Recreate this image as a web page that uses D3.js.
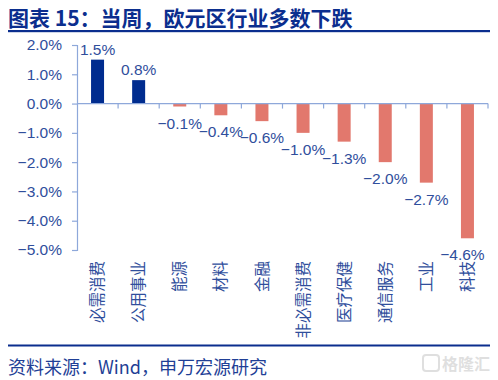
<!DOCTYPE html>
<html><head><meta charset="utf-8">
<script src="https://cdn.jsdelivr.net/npm/d3@7/dist/d3.min.js"></script>
<style>body{margin:0;background:#fff}svg{display:block}</style>
</head><body>
<svg id="c" width="498" height="380"></svg>
<script>
const categories = ["必需消费","公用事业","能源","材料","金融","非必需消费","医疗保健","通信服务","工业","科技"];
const values = [1.5, 0.8, -0.1, -0.4, -0.6, -1.0, -1.3, -2.0, -2.7, -4.6];
const yTicks = [2, 1, 0, -1, -2, -3, -4, -5];
const title = "图表 15：当周，欧元区行业多数下跌";
const source = "资料来源：Wind，申万宏源研究";

const svg = d3.select("#c");
const FONT = "'Liberation Sans', Arial, 'Noto Sans CJK SC', sans-serif";
const CJK = "'Noto Sans CJK SC', 'Liberation Sans', sans-serif";
const textBlue = "#2F4E9C";
const axisCol = "#8EA8DA";

// Title
svg.append("text").attr("x", 8).attr("y", 26)
  .attr("font-family", CJK).attr("font-weight", "bold").attr("font-size", 21)
  .attr("fill", "#0B2E8E").text(title);
svg.append("rect").attr("x", 8).attr("y", 30).attr("width", 482).attr("height", 2.2).attr("fill", "#0B2E8E");

const x = d3.scaleBand().domain(categories).range([77, 488]).paddingInner(0).paddingOuter(0);
const y = d3.scaleLinear().domain([-5, 2]).range([250, 45]);
const barW = 13;

const g = svg.append("g");

// Bars
g.selectAll("rect.bar").data(values).join("rect")
  .attr("class", "bar")
  .attr("x", (d, i) => x(categories[i]) + x.bandwidth() / 2 - barW / 2)
  .attr("width", barW)
  .attr("y", d => y(Math.max(0, d)))
  .attr("height", d => Math.abs(y(d) - y(0)))
  .attr("fill", d => d >= 0 ? "#002C8F" : "#E2786D");

// Y axis
const yAxis = d3.axisLeft(y).tickValues(yTicks).tickSize(5).tickPadding(10)
  .tickFormat(d => d3.format(".1f")(d) + "%");
const ya = svg.append("g").attr("transform", "translate(77,0)").call(yAxis);
ya.select(".domain").attr("stroke", axisCol).attr("stroke-width", 1.2);
ya.selectAll(".tick line").attr("stroke", axisCol).attr("stroke-width", 1.2);
ya.selectAll(".tick text").attr("font-family", FONT).attr("font-size", 15.5).attr("fill", textBlue);

// X axis at zero
const xAxis = d3.axisBottom(x).tickSize(0).tickFormat("");
const xa = svg.append("g").attr("transform", `translate(0,${y(0)})`).call(xAxis);
xa.select(".domain").attr("stroke", axisCol).attr("stroke-width", 1.2).attr("d", `M77,0H488`);
// tick marks between categories
const bounds = categories.map(c => x(c) + x.bandwidth());
xa.selectAll("line.sep").data(bounds).join("line").attr("class", "sep")
  .attr("x1", d => d).attr("x2", d => d).attr("y1", 0).attr("y2", 5)
  .attr("stroke", axisCol).attr("stroke-width", 1.2);

// Value labels
g.selectAll("text.val").data(values).join("text")
  .attr("class", "val")
  .attr("x", (d, i) => x(categories[i]) + x.bandwidth() / 2 - (i === values.length - 1 ? 5 : 0))
  .attr("y", d => d >= 0 ? y(d) - 5 : y(d) + 22)
  .attr("text-anchor", "middle")
  .attr("font-family", FONT).attr("font-size", 15.5).attr("fill", textBlue)
  .text(d => d3.format(".1f")(d) + "%");

// Category labels (rotated)
svg.selectAll("text.cat").data(categories).join("text")
  .attr("class", "cat")
  .attr("transform", d => `translate(${x(d) + x.bandwidth() / 2},261) rotate(-90)`)
  .attr("text-anchor", "end").attr("dy", "0.36em")
  .attr("font-family", CJK).attr("font-size", 15.5).attr("fill", textBlue)
  .text(d => d);

// Bottom line and source
svg.append("rect").attr("x", 0).attr("y", 340).attr("width", 498).attr("height", 40).attr("fill", "#fff");
svg.append("rect").attr("x", 8).attr("y", 344.5).attr("width", 482).attr("height", 2).attr("fill", "#0B2E8E");
svg.append("text").attr("x", 8).attr("y", 373.5)
  .attr("font-family", CJK).attr("font-size", 18).attr("fill", "#1F3F96").text(source);

// Watermark
const wm = svg.append("g").attr("opacity", 0.3);
wm.append("rect").attr("x", 423).attr("y", 355).attr("width", 16).attr("height", 16).attr("rx", 3)
  .attr("fill", "none").attr("stroke", "#999").attr("stroke-width", 2);
wm.append("text").attr("x", 442).attr("y", 370).attr("font-family", CJK).attr("font-size", 16).attr("font-weight", "bold")
  .attr("fill", "#999").text("格隆汇");
</script>
</body></html>
